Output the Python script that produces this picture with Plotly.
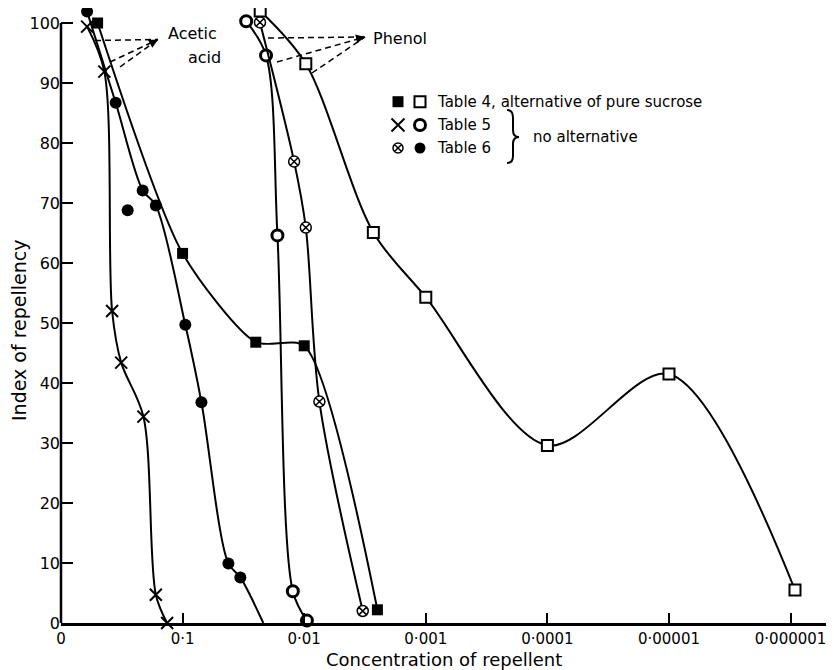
import plotly.graph_objects as go

# ---------------- data (concentration, index of repellency) ----------------
# Acetic acid
ac_t4_conc = [0.5, 0.1, 0.025, 0.01, 0.0025]
ac_t4_val = [100.0, 61.6, 46.8, 46.2, 2.2]

ac_t5_conc = [0.61, 0.44, 0.38, 0.32, 0.21, 0.166, 0.134]
ac_t5_val = [99.4, 91.9, 52.0, 43.4, 34.4, 4.7, 0.0]

ac_t6_conc = [0.61, 0.355, 0.213, 0.166, 0.095, 0.07, 0.042, 0.0335, 0.0217]
ac_t6_val = [101.9, 86.7, 72.1, 69.6, 49.7, 36.8, 9.9, 7.6, 0.0]
ac_t6_marked = [1, 1, 1, 1, 1, 1, 1, 1, 0]
ac_t6_off_conc = [0.283]
ac_t6_off_val = [68.8]

# Phenol
ph_t4_conc = [0.023, 0.0097, 0.0027, 0.001, 0.0001, 0.00001, 0.00000092]
ph_t4_val = [102.0, 93.2, 65.1, 54.3, 29.6, 41.5, 5.5]

ph_t5_conc = [0.030, 0.0206, 0.0166, 0.0124, 0.0095]
ph_t5_val = [100.3, 94.6, 64.6, 5.3, 0.4]

ph_t6_conc = [0.0231, 0.0121, 0.0097, 0.0075, 0.0033]
ph_t6_val = [100.1, 76.9, 65.9, 36.9, 2.0]

tick_conc = [1, 0.1, 0.01, 0.001, 0.0001, 0.00001, 0.000001]
tick_text = ["0", "0·1", "0·01", "0·001", "0·0001", "0·00001", "0·000001"]
y_ticks = list(range(0, 101, 10))

FONT = "DejaVu Sans"
BLACK = "black"

fig = go.Figure()

def curve(conc, val, symbol, size, fill, lw, name, sizes=None, smoothing=0.9):
    fig.add_trace(go.Scatter(
        x=conc, y=val, mode="lines+markers", name=name,
        line=dict(color=BLACK, width=2, shape="spline", smoothing=smoothing),
        marker=dict(symbol=symbol, size=sizes if sizes is not None else size,
                    color=fill, opacity=1, line=dict(color=BLACK, width=lw)),
        cliponaxis=False, showlegend=False))

curve(ac_t4_conc, ac_t4_val, "square", 11, BLACK, 0, "Table 4 acetic acid", smoothing=0.7)
curve(ac_t5_conc, ac_t5_val, "x-thin-open", 12, BLACK, 2, "Table 5 acetic acid")
curve(ac_t6_conc, ac_t6_val, "circle", 12, BLACK, 0, "Table 6 acetic acid",
      sizes=[12 * m for m in ac_t6_marked])
fig.add_trace(go.Scatter(x=ac_t6_off_conc, y=ac_t6_off_val, mode="markers",
                         marker=dict(symbol="circle", size=12, color=BLACK, opacity=1),
                         cliponaxis=False, showlegend=False))
curve(ph_t4_conc, ph_t4_val, "square", 11, "white", 2, "Table 4 phenol")
curve(ph_t5_conc, ph_t5_val, "circle", 11, "white", 3, "Table 5 phenol")
curve(ph_t6_conc, ph_t6_val, "circle-x", 11, "white", 1.5, "Table 6 phenol")

# ---------------- layout geometry ----------------
# The page adds an 8px body margin, so the figure is drawn 8px smaller and
# all decoration positions below are given in window pixels.
PAGE_OFF = 8
WIN_W, WIN_H = 834, 670
PLOT_LEFT, PLOT_RIGHT, PLOT_TOP, PLOT_BOTTOM = 61, 834, 8, 623
W, H = WIN_W - PAGE_OFF, WIN_H - PAGE_OFF
L = PLOT_LEFT - PAGE_OFF
R = WIN_W - PLOT_RIGHT
T = PLOT_TOP - PAGE_OFF
B = WIN_H - PLOT_BOTTOM
Y_TOP = (PLOT_BOTTOM - PLOT_TOP) / 6.0  # 6 px per unit of index

def paper_x(px):
    return (px - PLOT_LEFT) / (PLOT_RIGHT - PLOT_LEFT)

def paper_y(py):
    return (PLOT_BOTTOM - py) / (PLOT_BOTTOM - PLOT_TOP)

def deco_line(xs, ys, dash="dash", width=1.5):
    fig.add_trace(go.Scatter(x=xs, y=ys, xaxis="x2", yaxis="y2", mode="lines",
                             line=dict(color=BLACK, width=width, dash=dash),
                             hoverinfo="skip", showlegend=False, cliponaxis=False))

# leader lines (window pixels)
acetic_tip = (158, 39.5)
acetic_from = [(95, 40.5), (110, 62), (120, 67)]
phenol_tip = (365, 37)
phenol_from = [(268, 38), (277, 62), (312, 73)]
for tip, starts in ((acetic_tip, acetic_from), (phenol_tip, phenol_from)):
    for s in starts:
        deco_line([s[0], tip[0]], [s[1], tip[1]], dash="6px,4px")

annotations = []
def arrow(tip, tail):
    annotations.append(dict(x=tip[0], y=tip[1], ax=tail[0], ay=tail[1],
                            xref="x2", yref="y2", axref="x2", ayref="y2",
                            text="", showarrow=True, arrowhead=2, arrowsize=1.2,
                            arrowwidth=1.5, arrowcolor=BLACK))
arrow(acetic_tip, (150, 44))
arrow(phenol_tip, (356, 39))

def text(x, y, s, size=17, xanchor="left", angle=0):
    annotations.append(dict(x=paper_x(x), y=paper_y(y), xref="paper", yref="paper",
                            text=s, showarrow=False,
                            xanchor=xanchor, yanchor="middle", textangle=angle,
                            font=dict(family=FONT, size=size, color=BLACK)))

text(166, 33, "Acetic", 16)
text(186, 57, "acid", 16)
text(371, 38, "Phenol", 16)

# legend block
leg_rows = [101.7, 125, 148]
leg_sym1 = ["square", "x-thin-open", "circle-x"]
leg_fill1 = [BLACK, BLACK, "white"]
leg_lw1 = [0, 2, 1.5]
leg_size1 = [11, 13, 10]
leg_sym2 = ["square", "circle", "circle"]
leg_fill2 = ["white", "white", BLACK]
leg_lw2 = [2, 3, 0]
leg_size2 = [11, 11, 11]
fig.add_trace(go.Scatter(x=[398] * 3, y=leg_rows, xaxis="x2", yaxis="y2", mode="markers",
                         marker=dict(symbol=leg_sym1, size=leg_size1, color=leg_fill1,
                                     opacity=1, line=dict(color=BLACK, width=leg_lw1)),
                         hoverinfo="skip", showlegend=False, cliponaxis=False))
fig.add_trace(go.Scatter(x=[420] * 3, y=leg_rows, xaxis="x2", yaxis="y2", mode="markers",
                         marker=dict(symbol=leg_sym2, size=leg_size2, color=leg_fill2,
                                     opacity=1, line=dict(color=BLACK, width=leg_lw2)),
                         hoverinfo="skip", showlegend=False, cliponaxis=False))
text(435, leg_rows[0], "Table 4, alternative of pure sucrose", 15)
text(435, leg_rows[1], "Table 5", 15)
text(435, leg_rows[2], "Table 6", 15)
text(531, 137, "no alternative", 15)

# axis titles
text(444, 660, "Concentration of repellent", 18, xanchor="center")
text(19, 330, "Index of repellency", 19, xanchor="center", angle=-90)

shapes = [
    # brace
    dict(type="path", xref="x2", yref="y2",
         path="M 507,110 Q 513,110 513,118 L 513,130 Q 513,137 519,137 "
              "Q 513,137 513,144 L 513,156 Q 513,163 507,163",
         line=dict(color=BLACK, width=2)),
    # y axis line from 0 to 100
    dict(type="line", xref="paper", yref="y", x0=0, x1=0, y0=0, y1=100,
         line=dict(color=BLACK, width=2.5)),
]

fig.update_layout(
    width=W, height=H,
    margin=dict(l=L, r=R, t=T, b=B, pad=0),
    paper_bgcolor="white", plot_bgcolor="white",
    font=dict(family=FONT, size=16, color=BLACK),
    annotations=annotations, shapes=shapes,
    xaxis=dict(type="log", range=[0, -6.357], tickvals=tick_conc, ticktext=tick_text,
               ticks="inside", ticklen=10, tickwidth=2, tickcolor=BLACK,
               showline=True, linewidth=2.5, linecolor=BLACK, showgrid=False,
               zeroline=False, tickfont=dict(size=15)),
    yaxis=dict(range=[0, Y_TOP], tickvals=y_ticks, ticks="inside", ticklen=12,
               tickwidth=2, tickcolor=BLACK, showline=False, showgrid=False,
               zeroline=False, tickfont=dict(size=16)),
    xaxis2=dict(overlaying="x", anchor="y2", range=[PLOT_LEFT, PLOT_RIGHT],
                visible=False, fixedrange=True),
    yaxis2=dict(overlaying="y", anchor="x2", range=[PLOT_BOTTOM, PLOT_TOP],
                visible=False, fixedrange=True),
)

fig.write_html("out.html")
